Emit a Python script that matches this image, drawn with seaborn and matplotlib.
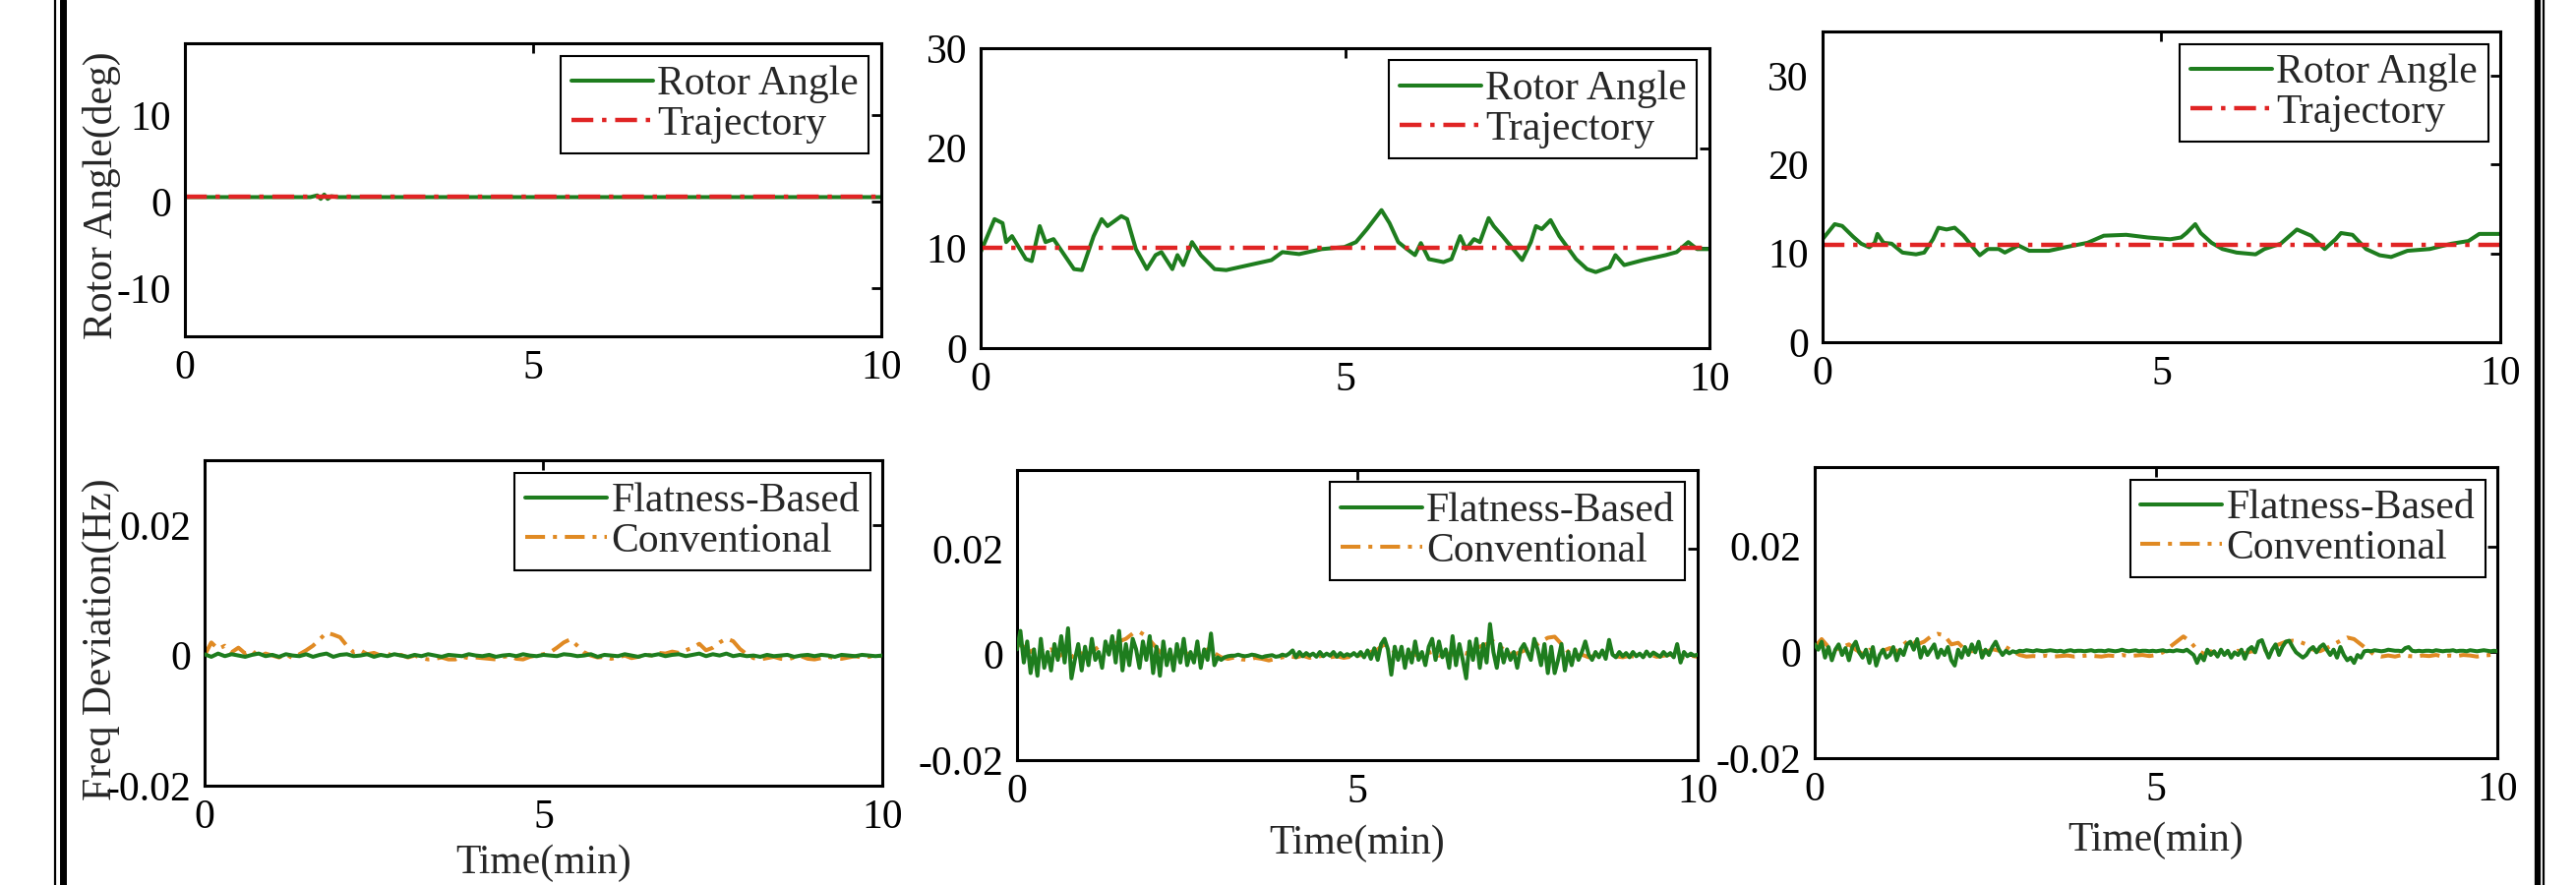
import numpy as np
import matplotlib
matplotlib.use("Agg")
import matplotlib.pyplot as plt
from matplotlib.lines import Line2D
from matplotlib.ticker import FuncFormatter
import seaborn as sns

# ---- data ----
# top row: rotor angle (deg) vs time (min)
t_rotor1 = [0, 0.5, 1.0, 1.5, 1.8, 1.9, 1.95, 2.0, 2.05, 2.1, 2.2, 2.5, 3, 4, 5, 6, 7, 8, 9, 10]
rotor1 = [0.5, 0.5, 0.5, 0.5, 0.5, 0.7, 0.3, 0.8, 0.3, 0.6, 0.5, 0.5, 0.5, 0.5, 0.5, 0.5, 0.5, 0.5, 0.5, 0.5]
traj1 = 0.5

t_rotor2 = [0, 0.19, 0.3, 0.35, 0.43, 0.62, 0.7, 0.81, 0.89, 1.0, 1.28, 1.39, 1.55, 1.66, 1.74,
            1.93, 2.01, 2.13, 2.28, 2.4, 2.48, 2.63, 2.7, 2.78, 2.9, 3.02, 3.21, 3.37, 3.68, 3.99,
            4.14, 4.37, 4.68, 4.99, 5.15, 5.3, 5.5, 5.61, 5.73, 5.85, 5.96, 6.04, 6.15, 6.35, 6.46,
            6.58, 6.66, 6.77, 6.85, 6.97, 7.04, 7.16, 7.43, 7.55, 7.62, 7.7, 7.82, 7.94, 8.17, 8.32,
            8.44, 8.63, 8.71, 8.83, 9.09, 9.4, 9.55, 9.71, 9.83, 10]
rotor2 = [9.6, 12.9, 12.5, 10.6, 11.2, 8.9, 8.7, 12.2, 10.6, 10.9, 7.9, 7.8, 11.2, 12.9, 12.2,
          13.2, 12.9, 9.9, 7.9, 9.3, 9.6, 7.9, 9.3, 8.3, 10.6, 9.3, 7.9, 7.8, 8.3, 8.8,
          9.6, 9.4, 9.9, 10.1, 10.6, 11.9, 13.8, 12.5, 10.6, 9.9, 9.3, 10.5, 8.9, 8.6, 8.9,
          11.2, 9.9, 10.9, 10.6, 13.0, 12.2, 11.2, 8.8, 10.6, 12.2, 11.9, 12.8, 11.2, 8.9, 7.9,
          7.6, 8.1, 9.3, 8.3, 8.8, 9.3, 9.6, 10.6, 9.9, 9.9]
traj2 = 10.0

t_rotor3 = [0, 0.18, 0.29, 0.45, 0.57, 0.69, 0.77, 0.81, 0.9, 1.02, 1.18, 1.38, 1.5, 1.63, 1.71,
            1.83, 1.95, 2.08, 2.24, 2.32, 2.44, 2.6, 2.69, 2.89, 3.05, 3.34, 3.58, 3.91, 4.15, 4.48,
            4.8, 5.13, 5.29, 5.37, 5.5, 5.58, 5.74, 5.9, 6.11, 6.39, 6.52, 6.76, 7.0, 7.21, 7.41,
            7.57, 7.65, 7.82, 8.02, 8.22, 8.39, 8.63, 8.96, 9.28, 9.53, 9.69, 10]
rotor3 = [11.6, 13.3, 13.1, 11.9, 11.1, 10.7, 11.2, 12.2, 11.2, 11.1, 10.1, 9.9, 10.1, 11.6, 12.9,
          12.7, 12.9, 12.0, 10.5, 9.8, 10.5, 10.5, 10.1, 10.9, 10.3, 10.3, 10.7, 11.2, 12.0, 12.1,
          11.8, 11.6, 11.8, 12.3, 13.3, 12.3, 11.2, 10.5, 10.1, 9.9, 10.5, 11.1, 12.7, 12.0, 10.5,
          11.6, 12.3, 12.1, 10.5, 9.8, 9.6, 10.3, 10.5, 11.1, 11.4, 12.2, 12.2]
traj3 = 11.0

# bottom row: frequency deviation, in mHz (converted to Hz when drawn)
t_coarse = [round(0.1 * i, 2) for i in range(101)]
t_fine = [round(0.05 * i, 2) for i in range(201)]

flat1_mhz = [
    0.2, -0.2, 0.3, -0.1, 0.2, 0.0, -0.2, 0.1, 0.3, -0.1,
    0.1, -0.2, 0.2, 0.0, -0.1, 0.2, -0.2, 0.1, 0.3, -0.2,
    0.1, 0.2, -0.1, 0.0, 0.2, -0.2, 0.1, -0.1, 0.2, 0.0,
    -0.2, 0.1, -0.1, 0.2, 0.0, -0.2, 0.1, 0.0, -0.1, 0.2,
    0.0, -0.1, 0.1, -0.2, 0.0, 0.1, -0.1, 0.2, 0.0, -0.1,
    0.1, 0.0, -0.1, 0.2, 0.1, -0.1, 0.0, 0.2, -0.2, 0.1,
    0.0, -0.1, 0.2, 0.0, -0.2, 0.1, 0.0, 0.2, -0.1, 0.1,
    0.2, -0.1, 0.1, 0.3, -0.1, 0.2, 0.0, 0.3, -0.1, 0.1,
    -0.1, 0.0, -0.2, 0.1, -0.1, 0.0, 0.1, -0.2, 0.0, 0.1,
    -0.1, 0.1, 0.0, -0.2, 0.1, 0.0, -0.1, 0.1, 0.0, -0.1,
    0.0]
conv1_mhz = [
    0.0, 2.0, 1.0, 1.5, 0.5, 1.2, 0.3, 0.8, -0.2, 0.3,
    0.0, -0.3, 0.2, -0.4, 0.2, 0.8, 1.5, 2.5, 3.5, 3.2,
    2.8, 1.5, 0.5, 0.8, 0.2, 0.4, 0.0, 0.3, -0.2, 0.1,
    -0.3, 0.0, -0.4, -0.6, -0.5, -0.3, -0.6, -0.6, -0.2, -0.4,
    -0.3, -0.4, -0.5, -0.6, -0.2, -0.1, -0.5, -0.6, -0.2, 0.0,
    0.2, 0.5, 1.2, 2.0, 2.5, 1.5, 0.5, 0.0, -0.3, -0.2,
    -0.5, -0.3, 0.0, -0.4, -0.2, 0.1, 0.0, 0.4, 0.3, 0.6,
    0.4, 0.8, 1.2, 1.8, 0.8, 1.2, 2.0, 2.6, 2.2, 1.0,
    0.2, -0.4, -0.6, -0.4, -0.2, -0.5, -0.6, -0.3, -0.1, -0.5,
    -0.6, -0.4, -0.2, -0.4, -0.5, -0.3, -0.1, -0.3, -0.2, 0.0,
    -0.1]

flat2_mhz = [
    1.0, 4.5, -1.5, 2.5, -3.5, 1.0, -4.0, 3.0, -2.5, 0.5, -3.0, 2.0, -1.0, 3.5, -1.5, 5.0, -4.5, -1.0, 2.0, -3.0,
    1.5, -2.0, 3.0, -1.0, 0.5, -2.5, 2.5, 0.0, 3.5, -1.5, 4.5, -3.0, 2.0, -2.0, 3.0, 1.0, -2.5, 2.5, -1.0, 3.5,
    -3.5, 1.5, -4.0, 2.5, -2.0, 1.0, -3.0, 2.0, -1.5, 3.0, -2.0, 0.5, -1.5, 2.5, -2.5, 1.0, -1.0, 4.0, -2.0, -0.5,
    -1.0, -0.5, -0.3, -0.2, -0.2, 0.0, -0.2, -0.3, -0.2, 0.0, -0.1, -0.3, -0.5, -0.3, -0.2, -0.1, -0.4, -0.3, 0.0, -0.2,
    0.2, 0.8, -0.5, 0.5, -0.3, 0.3, -0.2, 0.2, -0.4, 0.5, -0.3, 0.2, -0.2, 0.5, -0.4, 0.3, -0.3, 0.1, -0.2, 0.3,
    -0.3, 0.5, -0.5, 0.8, -0.8, 1.2, -1.0, 2.0, 3.0, 1.0, -3.8, 1.5, -1.0, 1.5, -2.5, 1.0, -1.5, 2.5, -1.0, 0.5,
    -2.0, 1.5, 3.0, -1.0, 2.5, -0.5, 1.0, -2.5, 3.5, -2.0, 2.0, -1.0, -4.5, 2.5, -1.0, 3.0, -2.5, 2.0, -1.5, 5.8,
    0.5, -2.5, 2.0, -1.5, 1.0, -1.0, 0.5, -2.5, 1.0, 2.0, 0.5, -1.0, 3.0, 1.0, -2.0, 2.0, -3.5, 1.5, -3.5, -1.0,
    2.0, -3.0, 0.5, -2.0, 1.0, -1.0, 0.5, 2.5, 0.0, -1.0, 0.5, -0.5, 0.8, -0.8, 2.8, 0.0, -0.5, 0.5, -0.3, 0.3,
    -0.5, 0.5, -0.3, 0.2, -0.5, 0.6, -0.3, 0.4, 0.0, -0.4, 0.5, -0.2, 0.3, -0.5, 2.0, -1.5, 0.5, -0.3, 0.2, -0.2,
    0.0]
conv2_mhz = [
    2.0, 1.5, 0.5, 1.5, 0.5, 1.0, -0.5, 0.5, -0.5, 0.5,
    0.0, 0.5, 1.5, 1.0, 1.8, 2.5, 3.0, 4.0, 4.3, 3.5,
    2.0, 0.5, -0.5, 0.0, 0.8, 0.2, -0.3, 0.4, 1.0, 0.3,
    -0.5, -0.8, -0.5, -0.9, -1.0, -0.6, -0.8, -1.1, -0.8, -0.5,
    -0.3, -0.5, -0.2, -0.6, -0.4, -0.2, -0.5, -0.3, -0.6, -0.4,
    -0.2, 0.0, 0.5, 1.0, 2.0, 1.0, 0.0, -0.5, 0.3, -0.3,
    0.2, 0.5, -0.2, 0.3, 0.0, 0.5, 0.2, 1.0, 1.5, 2.0,
    2.5, 1.5, 0.5, 0.0, 0.5, 1.0, 1.5, 2.5, 3.2, 3.4,
    2.0, 0.5, -0.3, 0.0, -0.5, -0.2, 0.3, 0.0, -0.3, -0.5,
    -0.2, -0.5, -0.3, 0.0, -0.4, -0.2, 0.0, -0.3, -0.5, -0.2,
    -0.4]

flat3_mhz = [
    1.5, 0.5, 2.0, -1.0, 1.0, -1.5, 0.5, 1.5, -0.5, 0.8, -1.5, 1.0, 2.0, 0.0, -1.0, 0.5, -2.0, 1.0, -2.5, -0.5,
    0.5, -1.0, -0.5, 1.0, -1.5, 0.5, -0.5, 1.5, 2.0, 0.5, 2.5, -1.0, 1.0, -0.5, 0.5, 1.5, -1.0, 0.5, -0.5, 1.0,
    -1.5, -2.5, 0.5, -1.0, 1.0, -0.5, 1.5, 0.0, 2.0, -1.0, 0.5, -0.5, 1.0, 2.0, 0.5, -0.5, 0.3, -0.2, 0.2, 0.0,
    0.3, 0.2, 0.4, 0.3, 0.2, 0.4, 0.3, 0.2, 0.3, 0.4, 0.3, 0.2, 0.3, 0.1, 0.3, 0.4, 0.2, 0.3, 0.3, 0.2,
    0.3, 0.4, 0.2, 0.3, 0.3, 0.2, 0.4, 0.3, 0.2, 0.3, 0.5, 0.3, 0.2, 0.3, 0.4, 0.2, 0.3, 0.3, 0.2, 0.3,
    0.2, 0.3, 0.4, 0.2, 0.3, 0.2, 0.4, 0.3, 0.2, 0.5, 0.0, -0.5, -2.0, -0.5, -1.5, 0.5, -0.5, 0.2, -0.8, 0.5,
    -0.5, 0.3, -1.0, 0.0, -0.5, 0.5, -1.2, 0.5, 1.0, 0.0, 2.0, 2.3, 0.5, -1.0, 0.5, 1.5, -0.5, 1.0, 2.0, 2.2,
    1.0, 0.0, -0.5, -1.0, -0.5, 0.5, 1.0, 0.0, 1.0, 1.5, 0.5, -0.5, 0.5, -1.0, 1.0, -0.5, -1.5, -1.0, -2.0, -0.5,
    -1.0, 0.2, 0.3, 0.2, 0.4, 0.3, 0.2, 0.3, 0.5, 0.4, 0.3, 0.3, 0.2, 0.8, 1.0, 0.3, 0.2, 0.3, 0.2, 0.3,
    0.3, 0.2, 0.4, 0.3, 0.2, 0.3, 0.3, 0.4, 0.2, 0.3, 0.3, 0.2, 0.4, 0.3, 0.2, 0.3, 0.4, 0.3, 0.2, 0.3,
    0.2]
conv3_mhz = [
    1.0, 2.5, 1.0, 0.5, 1.0, 1.5, 0.5, -0.3, 0.5, 0.0,
    0.3, 0.8, 0.2, 1.5, 2.5, 1.5, 2.0, 3.0, 3.5, 3.2,
    1.5, 1.8, 0.5, 0.2, 0.5, 0.0, 0.6, 0.3, 1.0, 0.2,
    -0.5, -0.8, -0.7, -0.8, -0.6, -0.8, -0.7, -0.6, -0.8, -0.7,
    -0.6, -0.7, -0.8, -0.6, -0.7, -0.5, -0.7, -0.6, -0.5, -0.7,
    -0.5, 0.0, 1.0, 2.0, 3.0, 2.0, 0.5, -0.3, 0.2, -0.5,
    0.0, -0.3, 0.3, -0.2, 0.2, 0.0, 0.5, 1.0, 1.5, 2.0,
    2.2, 2.0, 1.5, 0.5, 0.2, 0.8, 1.5, 2.2, 2.8, 2.5,
    1.5, 0.5, -0.5, -0.8, -0.6, -0.8, -0.5, -0.7, -0.8, -0.6,
    -0.7, -0.5, -0.8, -0.6, -0.7, -0.5, -0.6, -0.8, -0.6, -0.5,
    -0.6]

top_ylims = [(-15.6, 18.3), (0, 30), (0, 35)]
top_yticks = [[-10, 0, 10], [0, 10, 20, 30], [0, 10, 20, 30]]
bot_ylims = [(-0.02, 0.030), (-0.02, 0.035), (-0.02, 0.035)]
bot_yticks = [-0.02, 0, 0.02]
x_ticks = [0, 5, 10]

GREEN = "#1e7d1e"
RED = "#e02424"
ORANGE = "#e08a23"
FS = 30

sns.set_style("white")
plt.rcParams["font.family"] = ["Liberation Serif", "DejaVu Serif"]
plt.rcParams["axes.unicode_minus"] = False

fig = plt.figure(figsize=(26.19, 9.0), dpi=100)

top_rects = [[0.0718, 0.6200, 0.2703, 0.3311],
             [0.3807, 0.6067, 0.2829, 0.3389],
             [0.7075, 0.6133, 0.2631, 0.3511]]
bot_rects = [[0.0794, 0.1122, 0.2631, 0.3678],
             [0.3948, 0.1411, 0.2642, 0.3278],
             [0.7045, 0.1433, 0.2650, 0.3289]]

fmt = FuncFormatter(lambda v, p: f"{v:g}")


def style_axes(ax):
    for s in ax.spines.values():
        s.set_visible(True)
        s.set_color("black")
        s.set_linewidth(2.2)
    ax.tick_params(direction="in", length=7, width=2, top=True, right=True,
                   labelsize=FS, pad=10, colors="black")
    ax.set_xlim(0, 10)
    ax.set_xticks(x_ticks)
    ax.xaxis.set_major_formatter(fmt)
    ax.yaxis.set_major_formatter(fmt)


def add_legend(ax):
    leg = ax.legend(loc="upper right", frameon=True, fancybox=False, edgecolor="black",
                    framealpha=1, fontsize=FS, handlelength=2.0, handletextpad=0.1,
                    labelspacing=0.05, borderpad=0.25, borderaxespad=0.3)
    leg.get_frame().set_linewidth(1.5)


top_data = [(t_rotor1, rotor1, traj1), (t_rotor2, rotor2, traj2), (t_rotor3, rotor3, traj3)]
for i, (t, r, tr) in enumerate(top_data):
    ax = fig.add_axes(top_rects[i])
    sns.lineplot(x=t, y=r, ax=ax, color=GREEN, linewidth=2.9, label="Rotor Angle")
    sns.lineplot(x=[0, 10], y=[tr, tr], ax=ax, color=RED, linewidth=3.2,
                 linestyle=(0, (5, 2, 1, 2)), label="Trajectory")
    style_axes(ax)
    ax.set_ylim(*top_ylims[i])
    ax.set_yticks(top_yticks[i])
    ax.set_xlabel("")
    add_legend(ax)
    if i == 0:
        ax.set_ylabel("Rotor Angle(deg)", fontsize=FS, va="center")
        ax.yaxis.set_label_coords(-0.12, 0.48)
    else:
        ax.set_ylabel("")

bot_data = [(t_coarse, flat1_mhz, t_coarse, conv1_mhz),
            (t_fine, flat2_mhz, t_coarse, conv2_mhz),
            (t_fine, flat3_mhz, t_coarse, conv3_mhz)]
xlab_y = [-0.239, -0.288, -0.284]
for i, (tf, fl, tc, cv) in enumerate(bot_data):
    ax = fig.add_axes(bot_rects[i])
    sns.lineplot(x=tf, y=np.array(fl) / 1000.0, ax=ax, color=GREEN, linewidth=2.9,
                 label="Flatness-Based", zorder=3)
    sns.lineplot(x=tc, y=np.array(cv) / 1000.0, ax=ax, color=ORANGE, linewidth=2.9,
                 linestyle=(0, (5, 2, 1, 2)), label="Conventional", zorder=2)
    style_axes(ax)
    ax.set_ylim(*bot_ylims[i])
    ax.set_yticks(bot_yticks)
    ax.set_xlabel("Time(min)", fontsize=FS, va="center")
    ax.xaxis.set_label_coords(0.5, xlab_y[i])
    add_legend(ax)
    if i == 0:
        ax.set_ylabel("Freq Deviation(Hz)", fontsize=FS, va="center")
        ax.yaxis.set_label_coords(-0.152, 0.45)
    else:
        ax.set_ylabel("")

# double frame lines on left and right edges of the figure
W = 2619.0
for x, lw in [(56, 1.6), (63.5, 5.0), (2580, 4.5), (2585.5, 1.6)]:
    fig.add_artist(Line2D([x / W, x / W], [0, 1], transform=fig.transFigure,
                          color="black", linewidth=lw))

fig.savefig("out.png", dpi=100)
